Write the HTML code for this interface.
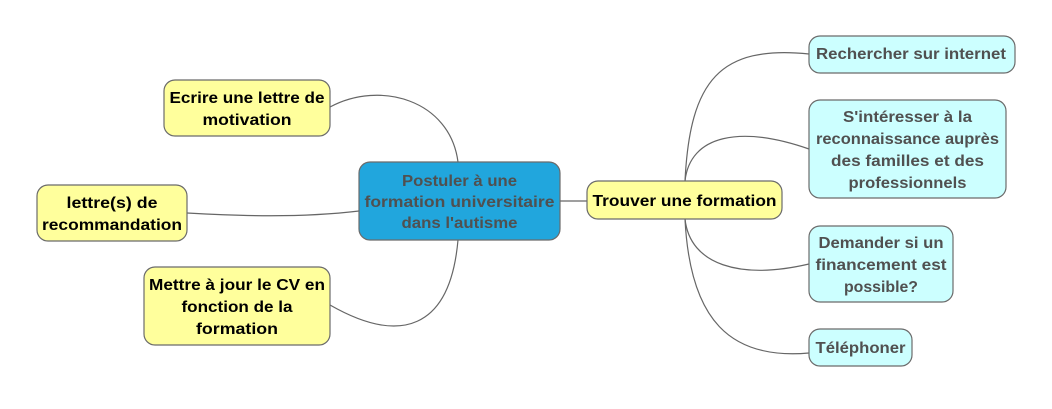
<!DOCTYPE html>
<html><head><meta charset="utf-8"><style>
html,body{margin:0;padding:0;background:#fff;}
svg text{font-family:"Liberation Sans","DejaVu Sans",sans-serif;font-weight:bold;font-size:16px;text-anchor:middle;}
</style></head><body>
<svg width="1052" height="404" viewBox="0 0 1052 404" xmlns="http://www.w3.org/2000/svg">
<g fill="none" stroke="#666" stroke-width="1.2">
<path d="M458,162 C450,100 380,80 330,107"/>
<path d="M359,211 C300,218 240,216 187,213"/>
<path d="M458,240 C450,330 400,345 330,305"/>
<path d="M560,201 L587,201"/>
<path d="M685,181 C690,80 720,45 809,54"/>
<path d="M685,181 C690,135 740,125 809,149"/>
<path d="M685,219 C690,265 740,280 809,264"/>
<path d="M685,219 C690,320 730,360 809,353"/>
</g>
<g stroke="#6b6b6b" stroke-width="1.2">
<rect x="359" y="162" width="201" height="78" rx="11" fill="#21a6dd"/>
<rect x="587" y="181" width="195" height="38" rx="11" fill="#ffff9c"/>
<rect x="164" y="80" width="166" height="56" rx="11" fill="#ffff9c"/>
<rect x="37" y="185" width="150" height="56" rx="11" fill="#ffff9c"/>
<rect x="144" y="267" width="186" height="78" rx="11" fill="#ffff9c"/>
<rect x="809" y="36" width="206" height="37" rx="11" fill="#ccffff"/>
<rect x="809" y="100" width="197" height="98" rx="11" fill="#ccffff"/>
<rect x="809" y="226" width="144" height="76" rx="11" fill="#ccffff"/>
<rect x="809" y="329" width="103" height="37" rx="11" fill="#ccffff"/>
</g>
<g fill="#505050">
<text x="459.5" y="186" textLength="115" lengthAdjust="spacingAndGlyphs">Postuler à une</text>
<text x="459.5" y="207" textLength="190" lengthAdjust="spacingAndGlyphs">formation universitaire</text>
<text x="459.5" y="228" textLength="116" lengthAdjust="spacingAndGlyphs">dans l'autisme</text>
<text x="911" y="59" textLength="190" lengthAdjust="spacingAndGlyphs">Rechercher sur internet</text>
<text x="907.5" y="122" textLength="129" lengthAdjust="spacingAndGlyphs">S'intéresser à la</text>
<text x="907.5" y="144" textLength="183" lengthAdjust="spacingAndGlyphs">reconnaissance auprès</text>
<text x="907.5" y="166" textLength="153" lengthAdjust="spacingAndGlyphs">des familles et des</text>
<text x="907.5" y="188" textLength="118" lengthAdjust="spacingAndGlyphs">professionnels</text>
<text x="881" y="248" textLength="125" lengthAdjust="spacingAndGlyphs">Demander si un</text>
<text x="881" y="270" textLength="131" lengthAdjust="spacingAndGlyphs">financement est</text>
<text x="881" y="292" textLength="74" lengthAdjust="spacingAndGlyphs">possible?</text>
<text x="860.5" y="353" textLength="90" lengthAdjust="spacingAndGlyphs">Téléphoner</text>
</g>
<g fill="#000">
<text x="684.5" y="206" textLength="184" lengthAdjust="spacingAndGlyphs">Trouver une formation</text>
<text x="247" y="103" textLength="155" lengthAdjust="spacingAndGlyphs">Ecrire une lettre de</text>
<text x="247" y="125" textLength="89" lengthAdjust="spacingAndGlyphs">motivation</text>
<text x="112" y="208" textLength="91" lengthAdjust="spacingAndGlyphs">lettre(s) de</text>
<text x="112" y="230" textLength="140" lengthAdjust="spacingAndGlyphs">recommandation</text>
<text x="237" y="290" textLength="176" lengthAdjust="spacingAndGlyphs">Mettre à jour le CV en</text>
<text x="237" y="312" textLength="111" lengthAdjust="spacingAndGlyphs">fonction de la</text>
<text x="237" y="334" textLength="82" lengthAdjust="spacingAndGlyphs">formation</text>
</g>
</svg>
</body></html>
